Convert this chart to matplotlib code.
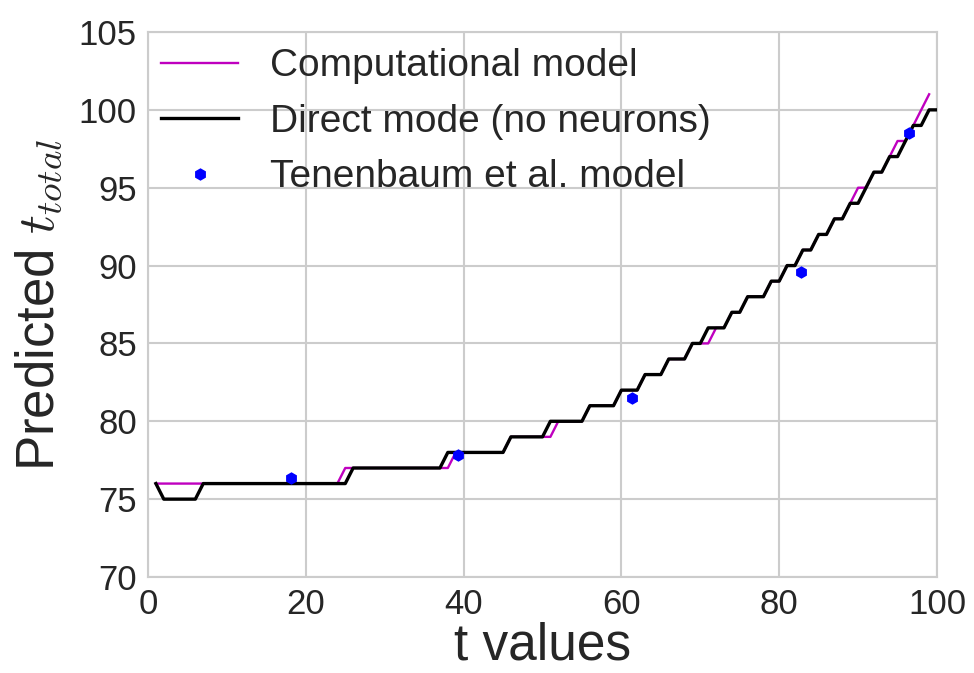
import matplotlib
matplotlib.use("Agg")
import matplotlib.pyplot as plt
import numpy as np

# ---- data ----
t_direct = list(range(1, 101))
direct_mode = [
    76, 75, 75, 75, 75, 75, 76, 76, 76, 76,
    76, 76, 76, 76, 76, 76, 76, 76, 76, 76,
    76, 76, 76, 76, 76, 77, 77, 77, 77, 77,
    77, 77, 77, 77, 77, 77, 77, 78, 78, 78,
    78, 78, 78, 78, 78, 79, 79, 79, 79, 79,
    80, 80, 80, 80, 80, 81, 81, 81, 81, 82,
    82, 82, 83, 83, 83, 84, 84, 84, 85, 85,
    86, 86, 86, 87, 87, 88, 88, 88, 89, 89,
    90, 90, 91, 91, 92, 92, 93, 93, 94, 94,
    95, 96, 96, 97, 97, 98, 99, 99, 100, 100,
]

t_comp = list(range(1, 100))
computational = [
    76, 76, 76, 76, 76, 76, 76, 76, 76, 76,
    76, 76, 76, 76, 76, 76, 76, 76, 76, 76,
    76, 76, 76, 76, 77, 77, 77, 77, 77, 77,
    77, 77, 77, 77, 77, 77, 77, 77, 78, 78,
    78, 78, 78, 78, 78, 79, 79, 79, 79, 79,
    79, 80, 80, 80, 80, 81, 81, 81, 81, 82,
    82, 82, 83, 83, 83, 84, 84, 84, 85, 85,
    85, 86, 86, 87, 87, 88, 88, 88, 89, 89,
    90, 90, 91, 91, 92, 92, 93, 93, 94, 95,
    95, 96, 96, 97, 98, 98, 99, 100, 101,
]

t_tenenbaum = [18.1, 39.3, 61.3, 82.8, 96.4]
tenenbaum = [76.35, 77.85, 81.5, 89.6, 98.5]

x_ticks = [0, 20, 40, 60, 80, 100]
y_ticks = [70, 75, 80, 85, 90, 95, 100, 105]

# ---- style ----
plt.rcParams['font.family'] = ['Liberation Sans', 'DejaVu Sans']
plt.rcParams['mathtext.fontset'] = 'cm'
text_col = '#262626'
grid_col = '#cccccc'

fig = plt.figure(figsize=(9.74, 6.73), dpi=100)
ax = fig.add_axes([148/974, 1 - 577/673, (937 - 148)/974, (577 - 32)/673])

ax.plot(t_comp, computational, color='m', lw=1.7, label='Computational model', zorder=3)
ax.plot(t_direct, direct_mode, color='k', lw=2.4, label='Direct mode (no neurons)', zorder=4)
ax.plot(t_tenenbaum, tenenbaum, linestyle='none', marker='h', color='b',
        markersize=9, markeredgewidth=0, label='Tenenbaum et al. model', zorder=5)

ax.set_xlim(0, 100)
ax.set_ylim(70, 105)
ax.set_xticks(x_ticks)
ax.set_yticks(y_ticks)
ax.tick_params(axis='both', length=0, labelsize=25, colors=text_col, pad=8)
ax.grid(True, color=grid_col, lw=1.5)
ax.set_axisbelow(True)
for s in ax.spines.values():
    s.set_color(grid_col)
    s.set_linewidth(1.5)

ax.set_xlabel('t values', fontsize=37, color=text_col, labelpad=0)
ax.set_ylabel('Predicted $t_{total}$', fontsize=38, color=text_col, labelpad=10)

leg = ax.legend(loc='upper left', frameon=False, fontsize=28, numpoints=1,
                handlelength=2.0, handletextpad=0.8, labelspacing=0.5,
                borderaxespad=0.0, borderpad=0.0, bbox_to_anchor=(0.016, 0.97))
for txt in leg.get_texts():
    txt.set_color(text_col)

fig.savefig('out.png', dpi=100)
